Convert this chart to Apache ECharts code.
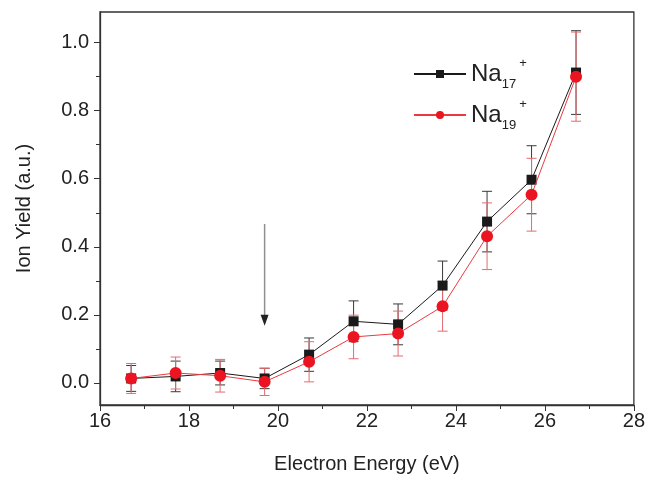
<!DOCTYPE html>
<html><head><meta charset="utf-8">
<script src="https://cdn.jsdelivr.net/npm/echarts@6/dist/echarts.min.js"></script>
<style>html,body{margin:0;padding:0;background:#fff}#c{width:648px;height:479px}</style>
</head><body><div id="c"></div>
<script>
// ---- data ----
const energy = [16.7, 17.7, 18.7, 19.7, 20.7, 21.7, 22.7, 23.7, 24.7, 25.7, 26.7];
const na17 = [0.013, 0.019, 0.029, 0.013, 0.083, 0.181, 0.172, 0.286, 0.474, 0.597, 0.912];
const na17Err = [0.038, 0.045, 0.035, 0.03, 0.049, 0.06, 0.06, 0.072, 0.089, 0.1, 0.123];
const na19 = [0.013, 0.029, 0.021, 0.003, 0.062, 0.135, 0.145, 0.225, 0.431, 0.553, 0.9];
const na19Err = [0.044, 0.047, 0.048, 0.04, 0.059, 0.064, 0.066, 0.073, 0.098, 0.107, 0.131];
const yTicks = [0, 0.2, 0.4, 0.6, 0.8, 1.0];
const yMinorTicks = [0.1, 0.3, 0.5, 0.7, 0.9];
const arrowX = 19.7, arrowTop = 0.467, arrowTip = 0.168;

const FONT = 'Liberation Sans, Arial, sans-serif';
const AX = '#333';

function errRender(color) {
  return function (params, api) {
    const x = api.value(0);
    const pLo = api.coord([x, api.value(1)]);
    const pHi = api.coord([x, api.value(2)]);
    const w = 5;
    const st = { stroke: color, lineWidth: 1 };
    return { type: 'group', children: [
      { type: 'line', shape: { x1: pLo[0], y1: pLo[1], x2: pHi[0], y2: pHi[1] }, style: st },
      { type: 'line', shape: { x1: pLo[0] - w, y1: pLo[1], x2: pLo[0] + w, y2: pLo[1] }, style: st },
      { type: 'line', shape: { x1: pHi[0] - w, y1: pHi[1], x2: pHi[0] + w, y2: pHi[1] }, style: st }
    ]};
  };
}

const chart = echarts.init(document.getElementById('c'), null, { renderer: 'canvas' });
chart.setOption({
  animation: false,
  backgroundColor: '#fff',
  textStyle: { fontFamily: FONT },
  grid: { left: 100, right: 14, top: 12, bottom: 73, show: true, borderColor: AX, borderWidth: 1.3, backgroundColor: 'transparent' },
  legend: {
    left: 408, top: 52, orient: 'vertical', itemWidth: 52, itemHeight: 10, itemGap: 7,
    data: ['Na17', 'Na19'],
    formatter: function (n) { return n === 'Na17' ? '{b|Na}{sub|17}{sup|+}' : '{b|Na}{sub|19}{sup|+}'; },
    textStyle: {
      rich: {
        b: { fontSize: 24, color: '#222', fontFamily: FONT, verticalAlign: 'middle', lineHeight: 34 },
        sub: { fontSize: 13, color: '#222', fontFamily: FONT, verticalAlign: 'bottom', lineHeight: 13 },
        sup: { fontSize: 13, color: '#222', fontFamily: FONT, verticalAlign: 'top', lineHeight: 13, padding: [0, 0, 0, 3] }
      }
    }
  },
  xAxis: {
    type: 'value', min: 16, max: 28, interval: 2,
    name: 'Electron Energy (eV)', nameLocation: 'middle', nameGap: 49,
    nameTextStyle: { fontSize: 20, color: '#222', fontFamily: FONT },
    axisLine: { show: true, onZero: false, lineStyle: { color: AX, width: 1.3 } },
    axisTick: { show: true, inside: false, length: 6, lineStyle: { color: AX } },
    minorTick: { show: true, splitNumber: 2, length: 4, lineStyle: { color: AX } },
    axisLabel: { fontSize: 20, color: '#222', margin: 6, fontFamily: FONT },
    splitLine: { show: false }
  },
  yAxis: [{
    type: 'value', min: -0.065, max: 1.09,
    name: 'Ion Yield (a.u.)', nameLocation: 'middle', nameGap: 66,
    nameTextStyle: { fontSize: 20, color: '#222', fontFamily: FONT },
    axisLine: { show: true, onZero: false, lineStyle: { color: AX, width: 1.3 } },
    axisTick: { show: true, inside: false, length: 6, customValues: yTicks, lineStyle: { color: AX } },
    axisLabel: { fontSize: 20, color: '#222', margin: 11, customValues: yTicks, fontFamily: FONT,
      formatter: function (v) { return v.toFixed(1); } },
    splitLine: { show: false }
  }, {
    type: 'value', min: -0.065, max: 1.09, position: 'left',
    axisLine: { show: false, onZero: false },
    axisTick: { show: true, inside: false, length: 4, customValues: yMinorTicks, lineStyle: { color: AX } },
    axisLabel: { show: false },
    splitLine: { show: false }
  }],
  series: [
    { type: 'custom', name: 'err17', renderItem: errRender('#3a3a3a'), z: 2,
      data: energy.map((e, i) => [e, na17[i] - na17Err[i], na17[i] + na17Err[i]]) },
    { type: 'custom', name: 'err19', renderItem: errRender('#e56a6e'), z: 2,
      data: energy.map((e, i) => [e, na19[i] - na19Err[i], na19[i] + na19Err[i]]) },
    { type: 'line', name: 'Na17', data: energy.map((e, i) => [e, na17[i]]), z: 3,
      symbol: 'rect', symbolSize: 10, color: '#1a1a1a',
      lineStyle: { color: '#1a1a1a', width: 1 }, itemStyle: { color: '#1a1a1a' } },
    { type: 'line', name: 'Na19', data: energy.map((e, i) => [e, na19[i]]), z: 4,
      symbol: 'circle', symbolSize: 12, color: '#ea1520',
      lineStyle: { color: '#ea3a40', width: 1 }, itemStyle: { color: '#ea1520' } },
    { type: 'custom', name: 'arrow', z: 5, silent: true,
      data: [[arrowX, arrowTop, arrowTip]],
      renderItem: function (params, api) {
        const p0 = api.coord([api.value(0), api.value(1)]);
        const p1 = api.coord([api.value(0), api.value(2)]);
        const hl = 11, hw = 4;
        return { type: 'group', children: [
          { type: 'line', shape: { x1: p0[0], y1: p0[1], x2: p1[0], y2: p1[1] - hl + 1 }, style: { stroke: '#8f8f8f', lineWidth: 1.5 } },
          { type: 'polygon', shape: { points: [[p1[0] - hw, p1[1] - hl], [p1[0] + hw, p1[1] - hl], [p1[0], p1[1]]] }, style: { fill: '#222' } }
        ]};
      } }
  ]
});
</script>
</body></html>
